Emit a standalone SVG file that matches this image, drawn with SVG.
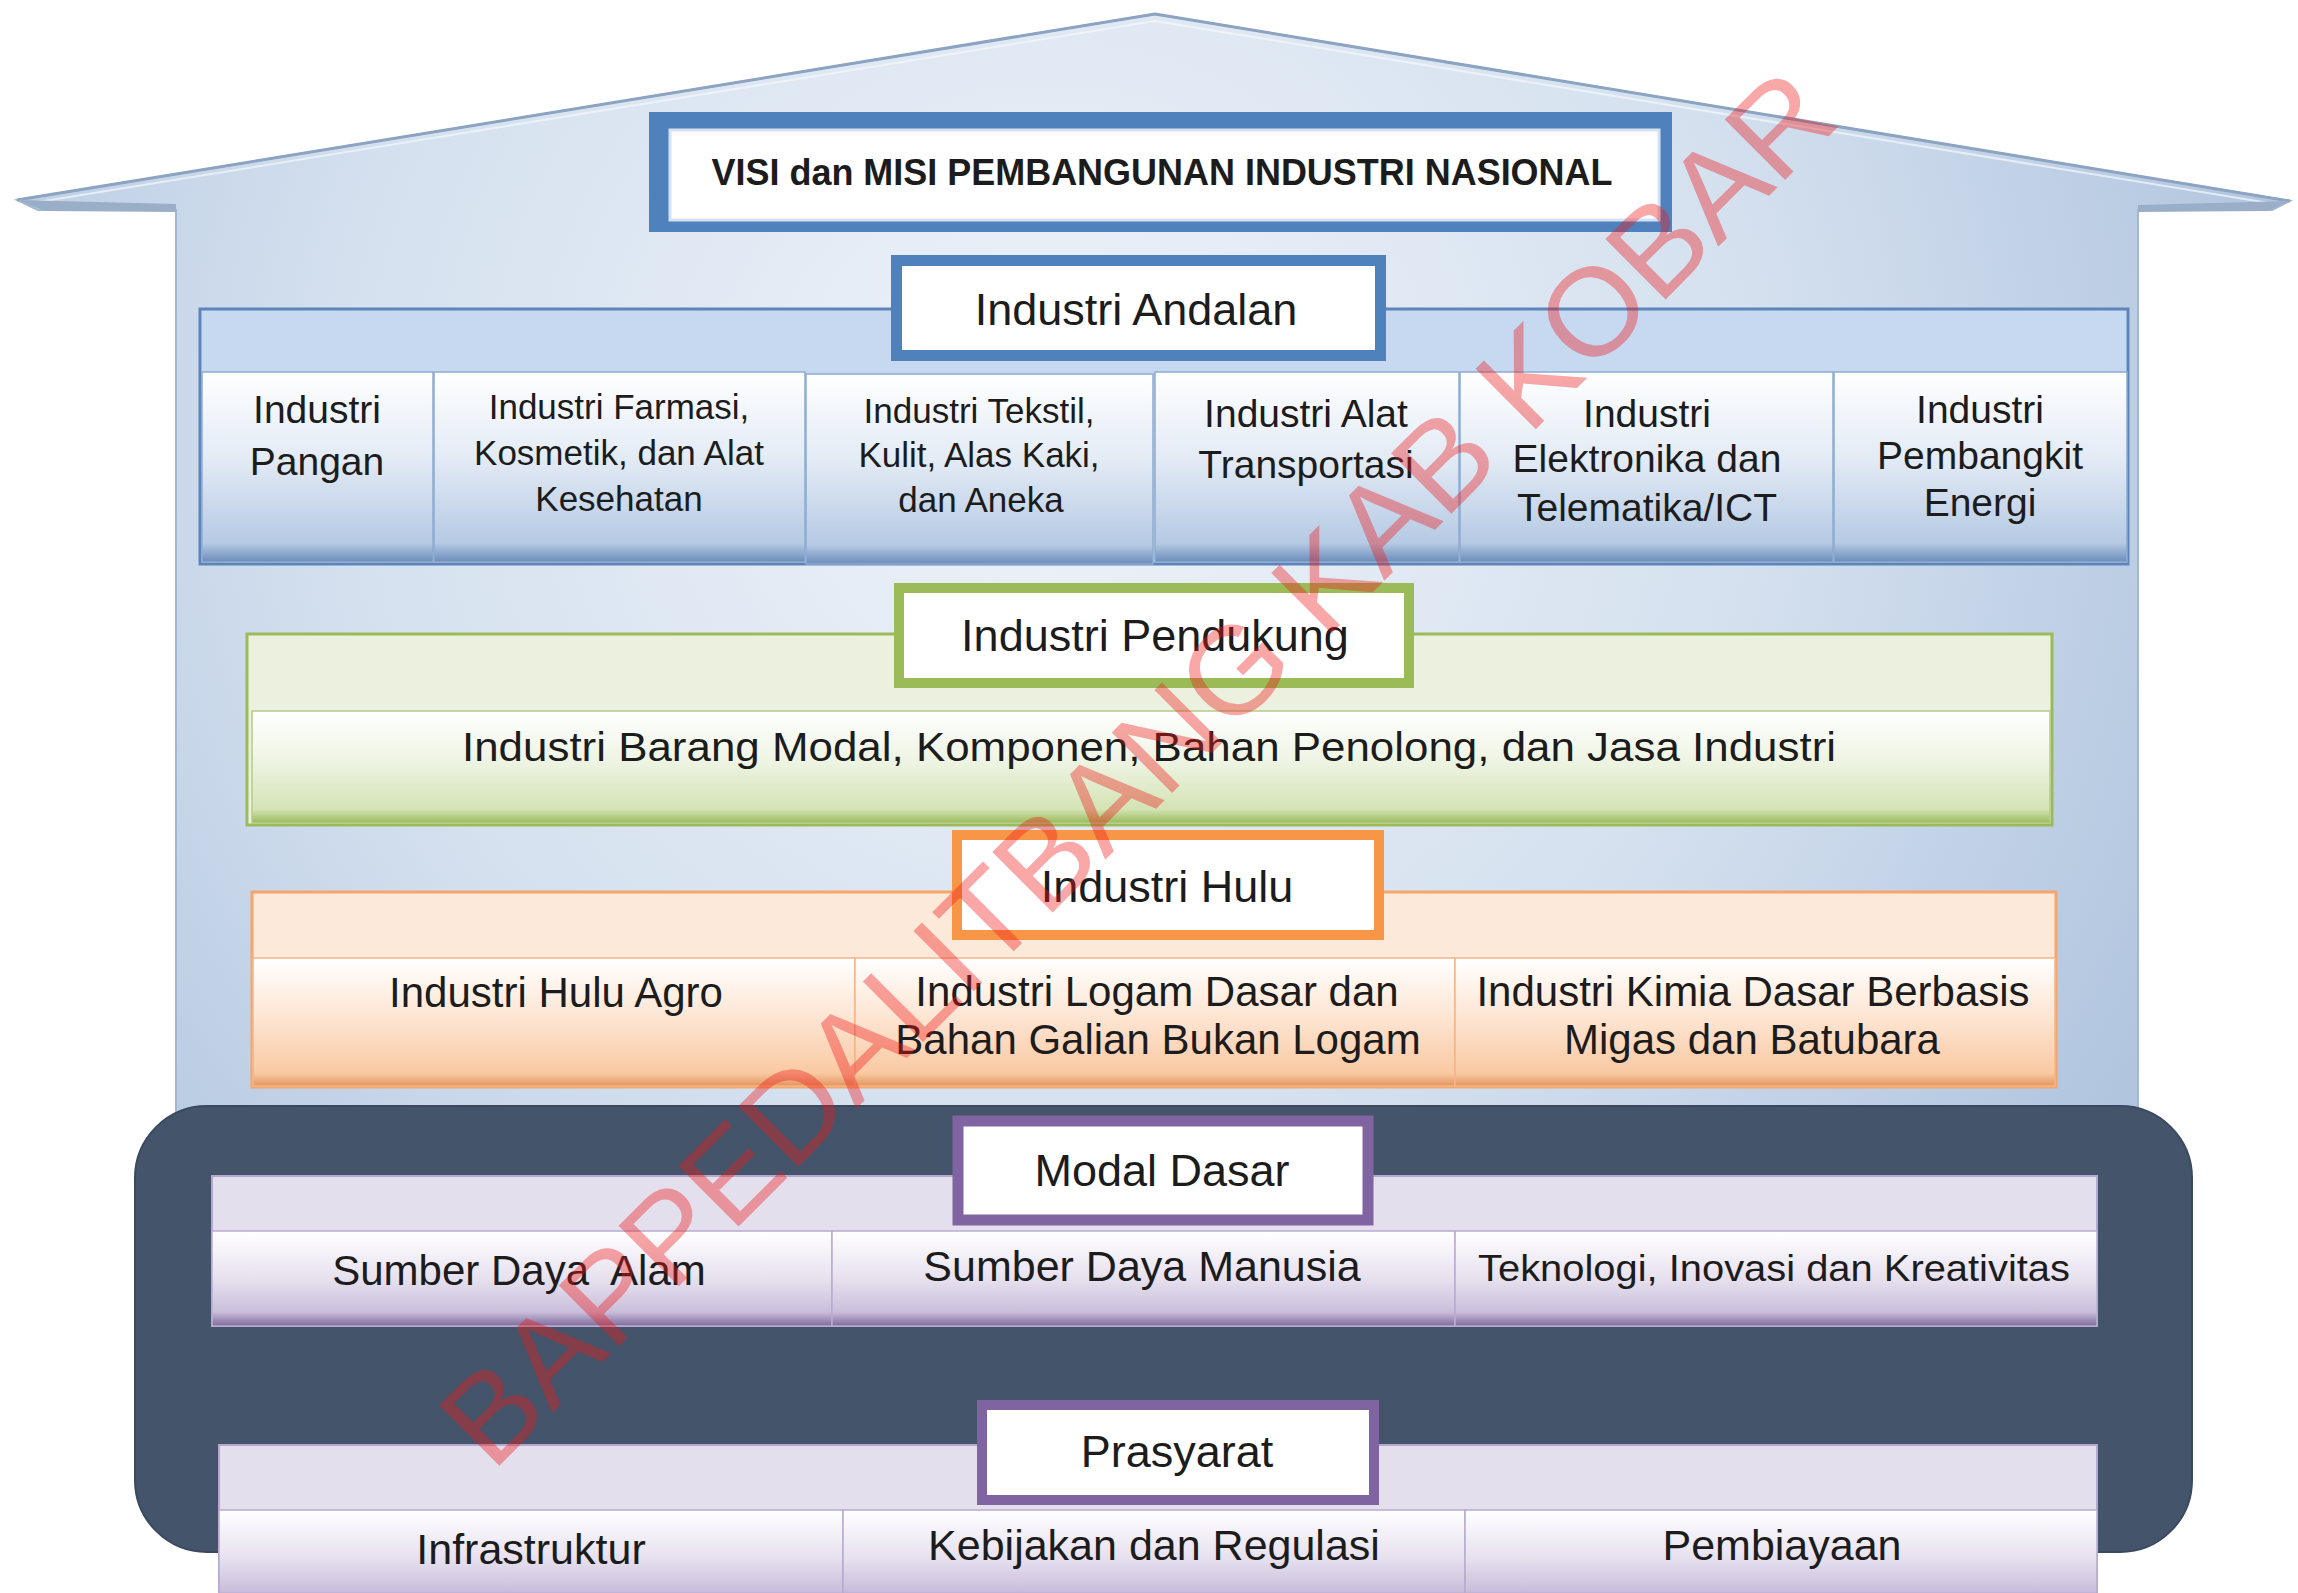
<svg xmlns="http://www.w3.org/2000/svg" width="2298" height="1593" viewBox="0 0 2298 1593">
<defs>
<style>
.t{font-family:"Liberation Sans",Arial,sans-serif;fill:#1c1c1c;text-anchor:middle}
.ti{font-size:45px}
.a{font-size:39px}
.b{font-size:35px}
.h{font-size:42px}
.p{font-size:43px}
.bx{stroke-width:1.5}
.bb{fill:url(#gBlue);stroke:#8eabd0}
.go{fill:url(#gOrange);stroke:#f3b58a}
.gp{fill:url(#gPurple);stroke:#b9aacf}
.fr{fill:#ffffff}
</style>
<radialGradient id="house" cx="1050" cy="430" r="1400" gradientUnits="userSpaceOnUse">
<stop offset="0" stop-color="#eef3f9"/>
<stop offset="0.5" stop-color="#d5e1ef"/>
<stop offset="1" stop-color="#a8bedb"/>
</radialGradient>
<linearGradient id="gBlue" x1="0" y1="0" x2="0" y2="1">
<stop offset="0" stop-color="#ffffff"/>
<stop offset="0.45" stop-color="#e3ebf5"/>
<stop offset="0.9" stop-color="#b6cae4"/>
<stop offset="1" stop-color="#6b8cbb"/>
</linearGradient>
<linearGradient id="gGreen" x1="0" y1="0" x2="0" y2="1">
<stop offset="0" stop-color="#ffffff"/>
<stop offset="0.45" stop-color="#eef4e3"/>
<stop offset="0.88" stop-color="#d3e3b4"/>
<stop offset="1" stop-color="#9bbb59"/>
</linearGradient>
<linearGradient id="gOrange" x1="0" y1="0" x2="0" y2="1">
<stop offset="0" stop-color="#ffffff"/>
<stop offset="0.5" stop-color="#fde3cf"/>
<stop offset="0.9" stop-color="#f9c9a2"/>
<stop offset="1" stop-color="#e3965c"/>
</linearGradient>
<linearGradient id="gPurple" x1="0" y1="0" x2="0" y2="1">
<stop offset="0" stop-color="#ffffff"/>
<stop offset="0.5" stop-color="#e7e1ef"/>
<stop offset="0.85" stop-color="#cabfdb"/>
<stop offset="1" stop-color="#7f6c9c"/>
</linearGradient>
</defs>

<g id="house">
<polygon points="17,200 1155,14 2290,201 2272,210 2138,210 2138,1112 176,1112 176,210 38,210" fill="url(#house)" stroke="#a3b7d1" stroke-width="2"/>
<polyline points="17,200 1155,14 2290,201" fill="none" stroke="#8ca3c2" stroke-width="3"/>
<polyline points="32,203 1155,21 2275,204" fill="none" stroke="#f5f8fc" stroke-width="2" opacity="0.7"/>
<polygon points="17,200 176,204 176,212 45,211" fill="#9aaec8"/>
<polygon points="2290,201 2138,205 2138,212 2268,211" fill="#9aaec8"/>
</g>

<g id="base-panel">
<rect x="135" y="1106" width="2057" height="446" rx="72" fill="#44546a" stroke="#3a4960" stroke-width="2"/>
</g>

<g id="visi">
<rect x="649" y="112" width="1023" height="120" fill="#4f81bd"/>
<rect x="670" y="130" width="989" height="90" fill="#ffffff" stroke="#d6e2f1" stroke-width="3"/>
<text class="t" x="1162" y="185" font-size="36" font-weight="bold" textLength="901" lengthAdjust="spacingAndGlyphs">VISI dan MISI PEMBANGUNAN INDUSTRI NASIONAL</text>
</g>

<g id="industri-andalan">
<rect x="200" y="309" width="1928" height="255" fill="#c6d9f0" stroke="#5e85b9" stroke-width="3"/>
<rect class="bx bb" x="202" y="372" width="231" height="190"/>
<rect class="bx bb" x="434" y="372" width="371" height="190"/>
<rect class="bx bb" x="806" y="374" width="347" height="190"/>
<rect class="bx bb" x="1155" y="372" width="304" height="190"/>
<rect class="bx bb" x="1460" y="372" width="373" height="190"/>
<rect class="bx bb" x="1834" y="372" width="293" height="190"/>
<rect x="896.5" y="260.5" width="484" height="95" class="fr" stroke="#4f81bd" stroke-width="11"/>
<text class="t ti" x="1136" y="325">Industri Andalan</text>
<text class="t a" x="317" y="423">Industri</text>
<text class="t a" x="317" y="475">Pangan</text>
<text class="t b" x="619" y="419">Industri Farmasi,</text>
<text class="t b" x="619" y="465">Kosmetik, dan Alat</text>
<text class="t b" x="619" y="511">Kesehatan</text>
<text class="t b" x="979" y="423">Industri Tekstil,</text>
<text class="t b" x="979" y="467">Kulit, Alas Kaki,</text>
<text class="t b" x="981" y="512">dan Aneka</text>
<text class="t a" x="1306" y="427">Industri Alat</text>
<text class="t a" x="1306" y="478">Transportasi</text>
<text class="t a" x="1647" y="427">Industri</text>
<text class="t a" x="1647" y="472">Elektronika dan</text>
<text class="t a" x="1647" y="521">Telematika/ICT</text>
<text class="t a" x="1980" y="423">Industri</text>
<text class="t a" x="1980" y="469">Pembangkit</text>
<text class="t a" x="1980" y="516">Energi</text>
</g>

<g id="industri-pendukung">
<rect x="247" y="634" width="1805" height="191" fill="#ebf1de" stroke="#9bbb59" stroke-width="3"/>
<rect x="252" y="711" width="1798" height="112" fill="url(#gGreen)" stroke="#b5cc8a" stroke-width="1.5"/>
<rect x="899" y="588" width="510" height="95" class="fr" stroke="#9bbb59" stroke-width="10"/>
<text class="t ti" x="1155" y="651">Industri Pendukung</text>
<text class="t" x="1149" y="761" font-size="41" textLength="1374" lengthAdjust="spacingAndGlyphs">Industri Barang Modal, Komponen, Bahan Penolong, dan Jasa Industri</text>
</g>

<g id="industri-hulu">
<rect x="252" y="892" width="1804" height="195" fill="#fde9d9" stroke="#f6a56b" stroke-width="3"/>
<rect class="bx go" x="253" y="958" width="602" height="128"/>
<rect class="bx go" x="855" y="958" width="600" height="128"/>
<rect class="bx go" x="1455" y="958" width="600" height="128"/>
<rect x="957" y="835" width="422" height="100" class="fr" stroke="#f79646" stroke-width="10"/>
<text class="t ti" x="1167" y="902">Industri Hulu</text>
<text class="t h" x="556" y="1007">Industri Hulu Agro</text>
<text class="t h" x="1157" y="1006">Industri Logam Dasar dan</text>
<text class="t h" x="1158" y="1054">Bahan Galian Bukan Logam</text>
<text class="t h" x="1753" y="1006">Industri Kimia Dasar Berbasis</text>
<text class="t h" x="1752" y="1054">Migas dan Batubara</text>
</g>

<g id="modal-dasar">
<rect x="212" y="1176" width="1885" height="150" fill="#e4dfec" stroke="#b7a6cd" stroke-width="2"/>
<rect class="bx gp" x="212" y="1231" width="620" height="95"/>
<rect class="bx gp" x="832" y="1231" width="623" height="95"/>
<rect class="bx gp" x="1455" y="1231" width="642" height="95"/>
<rect x="958" y="1121" width="410" height="99" class="fr" stroke="#8064a2" stroke-width="11"/>
<text class="t ti" x="1162" y="1186">Modal Dasar</text>
<text class="t h" x="519" y="1285" style="white-space:pre" xml:space="preserve">Sumber Daya  Alam</text>
<text class="t p" x="1142" y="1281">Sumber Daya Manusia</text>
<text class="t" x="1774" y="1281" font-size="37" textLength="592" lengthAdjust="spacingAndGlyphs">Teknologi, Inovasi dan Kreativitas</text>
</g>

<g id="prasyarat">
<rect x="219" y="1445" width="1878" height="160" fill="#e4dfec" stroke="#b7a6cd" stroke-width="2"/>
<rect class="bx gp" x="219" y="1510" width="624" height="95"/>
<rect class="bx gp" x="843" y="1510" width="622" height="95"/>
<rect class="bx gp" x="1465" y="1510" width="632" height="95"/>
<rect x="982" y="1405" width="392" height="95" class="fr" stroke="#8064a2" stroke-width="10"/>
<text class="t ti" x="1177" y="1467">Prasyarat</text>
<text class="t p" x="531" y="1564">Infrastruktur</text>
<text class="t p" x="1154" y="1560">Kebijakan dan Regulasi</text>
<text class="t p" x="1782" y="1560">Pembiayaan</text>
</g>

<g id="connectors"/>

<g id="watermark">
<text transform="translate(492,1473) rotate(-45)" x="0" y="0" font-family="Liberation Sans, Arial, sans-serif" font-size="124" textLength="1910" lengthAdjust="spacingAndGlyphs" fill="#f01818" fill-opacity="0.38">BAPPEDALITBANG KAB KOBAR</text>
</g>
</svg>
